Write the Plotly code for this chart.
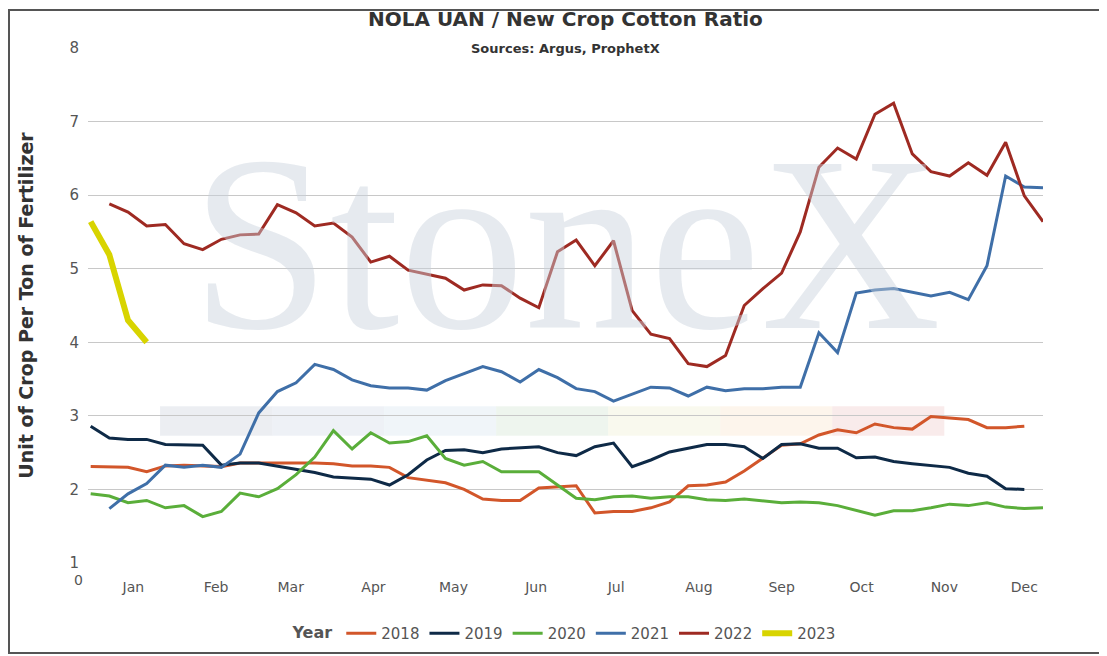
import plotly.graph_objects as go

# weekly values, x = day of year of the week
years = ['2018', '2019', '2020', '2021', '2022', '2023']
colors = ['#d2562a', '#0e2a47', '#5aae3a', '#3f6fa8', '#9e2a22', '#d8d400']
start_day = [-1, -1, -1, 6, 6, -1]

r2018 = [2.31, 2.30, 2.30, 2.24, 2.32, 2.33, 2.32, 2.31, 2.36, 2.36, 2.37, 2.37, 2.36, 2.35, 2.32, 2.32,
         2.30, 2.16, 2.12, 2.09, 2.00, 1.87, 1.85, 1.85, 2.02, 2.04, 2.05, 1.68, 1.70, 1.70, 1.75, 1.83,
         2.05, 2.06, 2.10, 2.25, 2.42, 2.60, 2.62, 2.74, 2.81, 2.77, 2.89, 2.84, 2.82, 2.99, 2.97, 2.95,
         2.84, 2.84, 2.86]
r2019 = [2.86, 2.70, 2.68, 2.68, 2.61, 2.60, 2.60, 2.33, 2.36, 2.36, 2.32, 2.27, 2.23, 2.17, 2.16, 2.14,
         2.06, 2.20, 2.40, 2.53, 2.54, 2.50, 2.55, 2.56, 2.58, 2.50, 2.46, 2.58, 2.63, 2.31, 2.40, 2.51,
         2.56, 2.61, 2.61, 2.58, 2.42, 2.61, 2.62, 2.56, 2.56, 2.43, 2.44, 2.38, 2.35, 2.32, 2.30, 2.22,
         2.18, 2.01, 2.00]
r2020 = [1.94, 1.91, 1.82, 1.85, 1.75, 1.78, 1.63, 1.70, 1.95, 1.90, 2.01, 2.20, 2.44, 2.80, 2.55, 2.77,
         2.63, 2.65, 2.73, 2.42, 2.33, 2.38, 2.24, 2.24, 2.24, 2.06, 1.88, 1.86, 1.90, 1.91, 1.88, 1.90,
         1.90, 1.86, 1.85, 1.87, 1.85, 1.82, 1.83, 1.82, 1.78, 1.72, 1.65, 1.71, 1.71, 1.75, 1.80, 1.78,
         1.82, 1.76, 1.74, 1.75]
r2021 = [1.74, 1.94, 2.08, 2.33, 2.30, 2.33, 2.30, 2.48, 3.04, 3.33, 3.45, 3.70, 3.63, 3.49, 3.41, 3.38,
         3.38, 3.35, 3.48, 3.57, 3.67, 3.60, 3.46, 3.63, 3.52, 3.37, 3.33, 3.20, 3.29, 3.39, 3.38, 3.27,
         3.39, 3.34, 3.37, 3.37, 3.39, 3.39, 4.13, 3.86, 4.67, 4.71, 4.73, 4.68, 4.63, 4.68, 4.58, 5.04,
         6.26, 6.11, 6.10]
r2022 = [5.88, 5.77, 5.58, 5.60, 5.34, 5.26, 5.40, 5.46, 5.47, 5.87, 5.76, 5.58, 5.62, 5.43, 5.09, 5.17,
         4.98, 4.93, 4.87, 4.71, 4.78, 4.77, 4.60, 4.47, 5.23, 5.39, 5.04, 5.38, 4.43, 4.11, 4.05, 3.71,
         3.67, 3.82, 4.50, 4.73, 4.94, 5.50, 6.38, 6.64, 6.49, 7.10, 7.25, 6.56, 6.32, 6.26, 6.44, 6.27,
         6.72, 5.99, 5.64]
r2023 = [5.64, 5.19, 4.30, 4.00]
series = [r2018, r2019, r2020, r2021, r2022, r2023]

month_labels = ['Jan', 'Feb', 'Mar', 'Apr', 'May', 'Jun', 'Jul', 'Aug', 'Sep', 'Oct', 'Nov', 'Dec']
month_mid = [15, 46, 74, 105, 135, 166, 196, 227, 258, 288, 319, 349]

fig = go.Figure()
for yr, vals, col, s in zip(years, series, colors, start_day):
    fig.add_trace(go.Scatter(x=[s + 7 * i for i in range(len(vals))], y=vals, mode='lines', name=yr,
                             line=dict(color=col, width=6 if yr == '2023' else 3)))

# border
fig.add_shape(type='rect', xref='paper', yref='paper', x0=-79 / 955, x1=1 + 68 / 955, y0=-90 / 515, y1=1 + 38 / 515,
              line=dict(color='#555', width=2), fillcolor='rgba(0,0,0,0)')
# watermark
fig.add_annotation(text='StoneX', x=0.5, y=0.62, xref='paper', yref='paper', showarrow=False,
                   font=dict(family='Liberation Serif', size=250, color='rgba(200,208,220,0.45)'))
for i, c in enumerate(['#dfe3ea', '#e3e8f0', '#e6eef5', '#e3efe2', '#f5f5e3', '#fbeee0', '#f5dede']):
    fig.add_shape(type='rect', xref='x', yref='y', x0=25 + i * 42, x1=67 + i * 42, y0=2.73, y1=3.13,
                  fillcolor=c, opacity=0.6, line_width=0, layer='below')

fig.add_annotation(text='<b>NOLA UAN / New Crop Cotton Ratio</b>', x=0.5, y=1.0, xref='paper', yref='paper',
                   yshift=29, yanchor='middle', showarrow=False, font=dict(size=20, color='#333'))
fig.add_annotation(text='<b>Sources: Argus, ProphetX</b>', x=0.5, y=1.0, xref='paper', yref='paper',
                   yshift=0, yanchor='middle', showarrow=False, font=dict(size=13, color='#333'))
fig.add_annotation(text='0', x=-10 / 955, y=0, xref='paper', yref='paper', yshift=-27, xanchor='center',
                   showarrow=False, font=dict(size=14, color='#555'))

fig.update_layout(
    width=1107, height=656, plot_bgcolor='white', paper_bgcolor='white',
    margin=dict(l=80, r=72, t=40, b=101, autoexpand=False),
    font=dict(family='Verdana, DejaVu Sans', color='#444'),
    legend=dict(orientation='h', x=0.5, xanchor='center', y=-0.105, yanchor='top',
                title=dict(text='<b>Year</b>', font=dict(size=16, color='#555')), font=dict(size=15, color='#555')),
)
fig.update_xaxes(range=[-2, 356], tickvals=month_mid, ticktext=month_labels, ticklabelstandoff=14,
                 showgrid=False, tickfont=dict(size=14, color='#555'), zeroline=False, automargin=False)
fig.update_yaxes(range=[1, 8], dtick=1, gridcolor='#c8c8c8', zeroline=False, automargin=False,
                 tickfont=dict(size=15, color='#555'), ticklabelstandoff=8,
                 title=dict(text='<b>Unit of Crop Per Ton of Fertilizer</b>', font=dict(size=19, color='#333'), standoff=30))
fig.write_html('out.html')
